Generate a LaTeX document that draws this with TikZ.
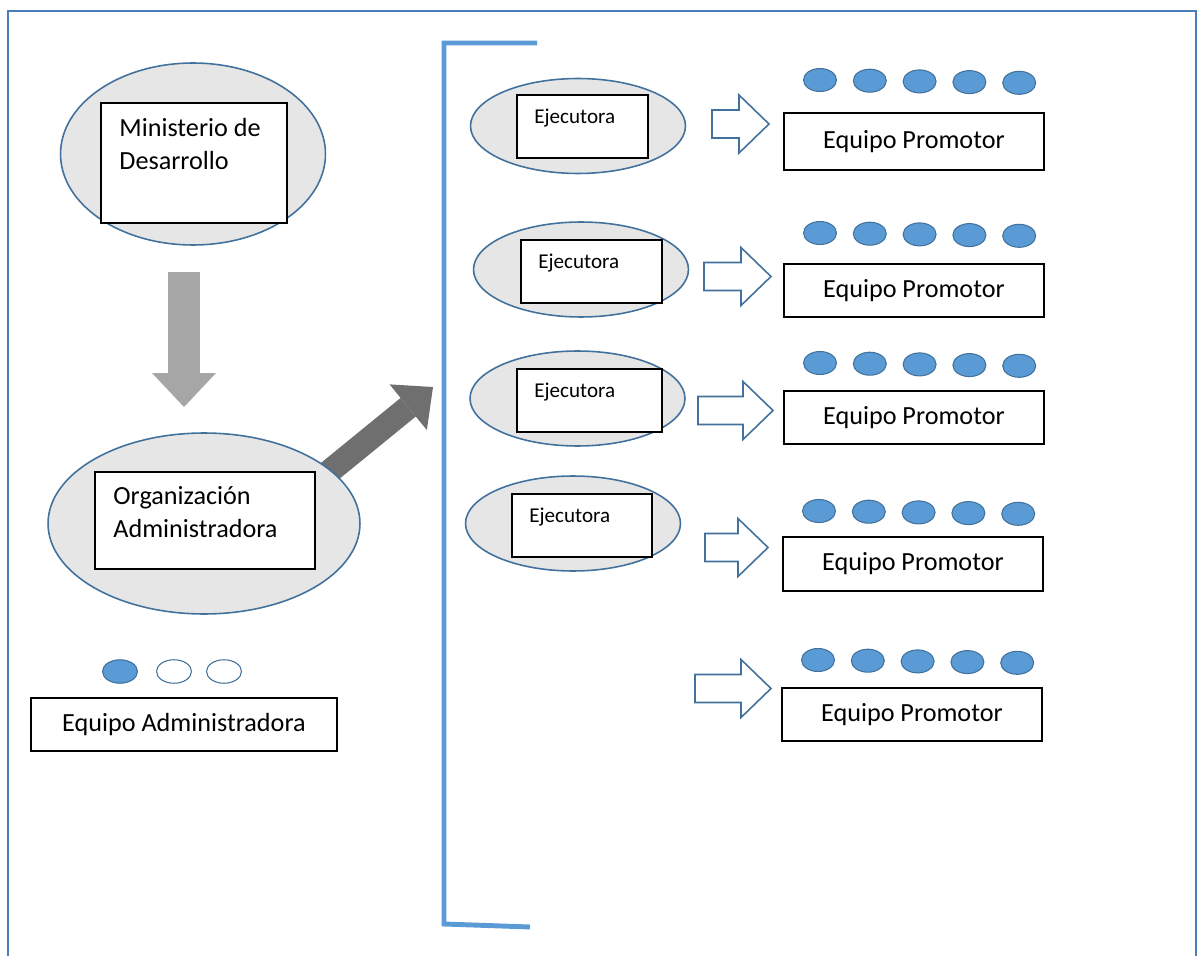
\documentclass[tikz,border=0pt]{standalone}
\usepackage{fontspec}
\setmainfont{Carlito}
\usetikzlibrary{shapes.geometric,arrows.meta,positioning}

\definecolor{frameblue}{HTML}{4A7EBB}
\definecolor{lineblue}{HTML}{41719C}
\definecolor{dotblue}{HTML}{5B9BD5}
\definecolor{ellgray}{HTML}{E7E6E6}
\definecolor{arrgray}{HTML}{A6A6A6}
\definecolor{arrdark}{HTML}{6F6F6F}

\tikzset{
  orgell/.style={ellipse, draw=lineblue, fill=ellgray, line width=0.9pt, inner sep=0pt},
  txtbox/.style={rectangle, draw=black, fill=white, line width=1.1pt, inner sep=0pt},
  bigtxt/.style={font=\fontsize{14.9}{18.6}\selectfont, inner sep=0pt, align=left},
  smalltxt/.style={font=\fontsize{12}{14}\selectfont, inner sep=0pt},
  fulldot/.style={ellipse, draw=lineblue, fill=dotblue, line width=0.6pt, minimum width=0.66cm, minimum height=0.46cm, inner sep=0pt},
  emptydot/.style={fulldot, fill=white},
  hollowarr/.style={draw=lineblue, fill=white, line width=0.9pt, line join=miter},
  grayarr/.style={arrgray, line width=0.64cm, -{Triangle[length=0.68cm,width=1.28cm,line width=0pt]}},
  darkarr/.style={arrdark, line width=0.48cm, -{Triangle[length=0.64cm,width=1.18cm,line width=0pt]}},
  bracket/.style={dotblue, line width=2.8pt, line join=miter}
}

\begin{document}
\begin{tikzpicture}[x=0.02cm,y=-0.02cm]
\useasboundingbox (0,0) rectangle (1201,956);
\draw[frameblue,line width=0.9pt] (8,956) -- (8,11) -- (1196,11) -- (1196,956);

\node[orgell,minimum width=5.3cm,minimum height=3.64cm] (mdes) at (193,154) {};
\node[txtbox,minimum width=3.72cm,minimum height=2.4cm] (mdesbox) at (194,163) {};
\node[bigtxt,anchor=base west] (mdestxt) at ([xshift=0.38cm,yshift=-1.34cm]mdesbox.north west) {Ministerio de\\Desarrollo};

\coordinate (gtail) at (184,272); \coordinate (gtip) at (184,407);
\draw[grayarr] (gtail) -- (gtip);

\coordinate (dtail) at (319,480); \coordinate (dtip) at (433,387);
\draw[darkarr] (dtail) -- (dtip);

\node[orgell,minimum width=6.24cm,minimum height=3.62cm] (morg) at (204,523.5) {};
\node[txtbox,minimum width=4.4cm,minimum height=1.94cm] (morgbox) at (205,520.5) {};
\node[bigtxt,anchor=base west] (morgtxt) at ([xshift=0.38cm,yshift=-1.32cm]morgbox.north west) {Organización\\Administradora};

\foreach \k/\x/\s in {1/120/fulldot,2/174/emptydot,3/224/emptydot}{\node[\s,minimum width=0.7cm,minimum height=0.47cm] (adot\k) at (\x,671.5) {};}
\node[txtbox,bigtxt,minimum width=6.12cm,minimum height=1.06cm] (eqadm) at (184,724.5) {Equipo Administradora};

\draw[bracket] (537,43) -- (444,43) -- (444,924) -- (530,927);

\foreach \r/\ex/\ey/\bx/\by/\bw in {1/578/126/582.5/126.5/2.62,2/581/269.5/591.5/271.5/2.82,3/577.5/398.5/589.5/400.5/2.9,4/573/523.5/582/525.5/2.8}{
  \node[orgell,minimum width=4.3cm,minimum height=1.9cm] (ej\r) at (\ex,\ey) {};
  \node[txtbox,minimum width=\bw cm,minimum height=1.26cm] (ejbox\r) at (\bx,\by) {};
  \node[smalltxt,anchor=base west] (ejtxt\r) at ([xshift=0.36cm,yshift=-0.58cm]ejbox\r.north west) {Ejecutora};
}

\foreach \r/\ax/\bx/\ay/\dy/\px/\py/\ph in {1/712/769/124/80/783/141.5/1.14,2/704/771/276.5/233/783/290.5/1.06,3/698/773/410.5/363/783/417.5/1.06,4/705/768/547.5/511/782/564/1.08,5/695/771/688.5/660/781/714.5/1.06}{
  \draw[hollowarr] (\ax,\ay-14) -- (\bx-30,\ay-14) -- (\bx-30,\ay-29) -- (\bx,\ay) -- (\bx-30,\ay+29) -- (\bx-30,\ay+14) -- (\ax,\ay+14) -- cycle;
  \foreach \k in {0,...,4}{\node[fulldot] (dot\r\k) at (\px+37+\k*49.8,\dy+\k*0.7) {};}
  \node[txtbox,bigtxt,minimum width=5.2cm,minimum height=\ph cm,anchor=west] (prom\r) at (\px,\py) {Equipo Promotor};
}
\end{tikzpicture}
\end{document}
